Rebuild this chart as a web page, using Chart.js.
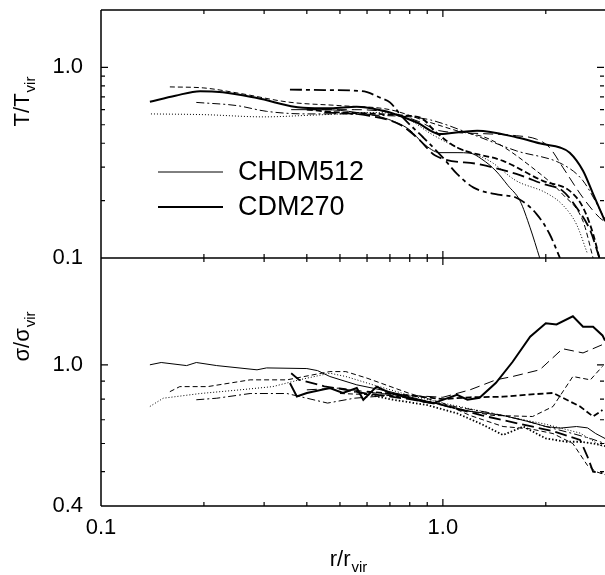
<!DOCTYPE html>
<html><head><meta charset="utf-8">
<script src="https://cdn.jsdelivr.net/npm/chart.js@4.4.1/dist/chart.umd.min.js"></script>
<style>html,body{margin:0;padding:0;background:#fff;}#wrap{width:605px;height:575px;position:relative;}</style>
</head><body><div id="wrap"><canvas id="c" width="605" height="575"></canvas></div>
<script>
// ---- tick labels ----
const xTickLabels = [0.1, 1.0];
const tTickLabels = [0.1, 1.0];
const sTickLabels = [0.4, 1.0];
const xMinorTicks = [0.2,0.3,0.4,0.5,0.6,0.7,0.8,0.9,2];
const tMinorTicks = [0.2,0.3,0.4,0.5,0.6,0.7,0.8,0.9];
const sMinorTicks = [0.5,0.6,0.7,0.8,0.9];
const legendLabels = ['CHDM512', 'CDM270'];

// ---- top panel: T/Tvir ----
const tCdm270R = [0.139,0.165,0.195,0.227,0.286,0.39,0.47,0.56,0.67,0.70,0.84,0.98,1.14,1.26,1.65,1.96,2.2,2.35,2.57,2.75,2.98];
const tCdm270V = [0.66,0.71,0.75,0.74,0.69,0.614,0.61,0.622,0.592,0.58,0.514,0.447,0.459,0.465,0.429,0.396,0.38,0.357,0.287,0.217,0.156];
const tChdmR = [0.36,0.45,0.56,0.68,0.80,0.875,0.98,1.1,1.2,1.3,1.43,1.55,1.68,1.8,1.92];
const tChdmV = [0.60,0.60,0.58,0.54,0.47,0.40,0.357,0.357,0.355,0.33,0.286,0.24,0.20,0.144,0.10];
const tDotR = [0.14,0.2,0.3,0.4,0.5,0.6,0.7,0.8,0.92,1.1,1.37,1.64,2.0,2.24,2.46,2.65];
const tDotV = [0.57,0.565,0.55,0.56,0.57,0.58,0.575,0.53,0.45,0.38,0.323,0.254,0.22,0.19,0.15,0.105];
const tDashDotThickR = [0.357,0.45,0.58,0.66,0.70,0.763,0.875,1.0,1.1,1.23,1.45,1.64,1.88,2.05,2.2];
const tDashDotThickV = [0.765,0.76,0.75,0.69,0.655,0.546,0.43,0.336,0.276,0.234,0.215,0.207,0.17,0.134,0.10];
const tLongR = [0.4,0.55,0.7,0.85,0.98,1.28,1.64,1.88,2.05,2.24,2.57,2.87,2.98];
const tLongV = [0.60,0.60,0.58,0.52,0.465,0.45,0.438,0.42,0.38,0.30,0.207,0.163,0.155];
const tDashDotR = [0.19,0.25,0.305,0.4,0.5,0.65,0.8,0.92,1.2,1.64,2.24,2.57,2.98];
const tDashDotV = [0.655,0.63,0.588,0.57,0.57,0.56,0.55,0.53,0.45,0.365,0.31,0.254,0.16];
const tDashThickR = [0.4,0.5,0.65,0.75,0.86,0.95,1.1,1.5,1.96,2.35,2.57,2.75,2.87];
const tDashThickV = [0.60,0.58,0.57,0.56,0.545,0.46,0.38,0.323,0.254,0.225,0.184,0.134,0.10];
const tDashR = [0.159,0.2,0.255,0.357,0.5,0.7,0.9,1.1,1.37,1.88,2.24,2.57,2.75];
const tDashV = [0.79,0.78,0.73,0.656,0.63,0.60,0.52,0.465,0.42,0.286,0.216,0.156,0.10];
const tLongThickR = [0.45,0.6,0.75,0.85,0.95,1.28,1.64,1.96,2.24,2.46,2.7,2.87];
const tLongThickV = [0.58,0.56,0.50,0.42,0.345,0.31,0.276,0.245,0.225,0.184,0.139,0.10];

// ---- bottom panel: sigma/sigma_vir ----
const sChdmR = [0.139,0.15,0.178,0.19,0.218,0.286,0.305,0.4,0.43,0.467,0.56,0.7,0.85,1.0,1.2,1.5,1.8,2.0,2.2,2.46,2.65,2.8,2.98];
const sChdmV = [1.0,1.015,0.995,1.015,0.995,0.968,0.98,0.976,0.963,0.927,0.878,0.84,0.80,0.77,0.74,0.72,0.69,0.67,0.663,0.67,0.664,0.64,0.62];
const sCdmR = [0.357,0.374,0.40,0.467,0.51,0.56,0.585,0.64,0.70,0.875,0.94,1.1,1.18,1.28,1.43,1.6,1.8,2.0,2.15,2.4,2.57,2.75,2.93,2.98];
const sCdmV = [0.888,0.814,0.833,0.86,0.833,0.86,0.797,0.868,0.833,0.788,0.78,0.823,0.797,0.807,0.89,1.02,1.20,1.31,1.30,1.37,1.28,1.28,1.21,1.17];
const sLongR = [0.4,0.5,0.65,0.8,1.0,1.2,1.43,1.6,1.92,2.24,2.57,2.93];
const sLongV = [0.85,0.86,0.83,0.82,0.81,0.85,0.907,0.927,0.968,1.11,1.08,1.14];
const sDash2R = [0.5,0.7,0.9,1.1,1.4,1.83,2.1,2.4,2.7,2.93];
const sDash2V = [0.83,0.82,0.79,0.75,0.72,0.715,0.763,0.927,0.907,0.99];
const sDashThickR = [0.6,0.8,1.0,1.2,1.5,1.74,2.1,2.52,2.75,2.93];
const sDashThickV = [0.84,0.82,0.80,0.81,0.813,0.823,0.833,0.763,0.715,0.746];
const sLongThickR = [0.36,0.38,0.45,0.6,0.8,1.0,1.3,1.7,2.1,2.52,2.65,2.75,2.93];
const sLongThickV = [0.947,0.907,0.87,0.83,0.80,0.77,0.72,0.68,0.65,0.614,0.55,0.50,0.495];
const sDotThickR = [0.55,0.7,0.9,1.1,1.3,1.5,1.72,2.0,2.3,2.52,2.75,2.98];
const sDotThickV = [0.84,0.80,0.77,0.73,0.68,0.634,0.67,0.62,0.607,0.607,0.60,0.59];
const sDotR = [0.139,0.152,0.195,0.255,0.318,0.38,0.467,0.52,0.625,0.8,1.0,1.3,1.6,2.0,2.52,2.93];
const sDotV = [0.763,0.805,0.83,0.85,0.868,0.907,0.947,0.927,0.878,0.82,0.78,0.74,0.71,0.68,0.642,0.588];
const sDashR = [0.159,0.17,0.205,0.273,0.35,0.467,0.52,0.6,0.8,1.0,1.2,1.5,1.8,2.1,2.4,2.65,2.8,2.98];
const sDashV = [0.84,0.868,0.868,0.907,0.907,0.957,0.957,0.917,0.83,0.78,0.72,0.67,0.66,0.64,0.60,0.52,0.50,0.49];
const sDashDotR = [0.19,0.218,0.273,0.35,0.46,0.55,0.7,0.9,1.1,1.4,1.7,2.0,2.4,2.7,2.98];
const sDashDotV = [0.797,0.805,0.83,0.83,0.78,0.805,0.82,0.79,0.76,0.73,0.70,0.67,0.64,0.62,0.60];

// ---- styles ----
const ST = {
  thin: {w:1, d:[]}, thick: {w:2, d:[]},
  dot: {w:1, d:[1,2]}, dotThick: {w:1.8, d:[1.5,2]},
  dash: {w:1, d:[5,3]}, dashThick: {w:1.8, d:[6,3]},
  long: {w:1, d:[10,5]}, longThick: {w:1.8, d:[12,5]},
  dashDot: {w:1, d:[8,3,2,3]}, dashDotThick: {w:1.8, d:[12,4,4,4]}
};
function pts(r, v) { return r.map((x, i) => ({x: x, y: v[i]})); }
function ds(r, v, st, axis, smooth) {
  return { data: pts(r, v), yAxisID: axis, borderColor: '#000', borderWidth: st.w, borderDash: st.d,
    pointRadius: 0, fill: false, tension: smooth ? 0.35 : 0, cubicInterpolationMode: smooth ? 'monotone' : 'default' };
}
const datasets = [
  ds(tChdmR, tChdmV, ST.thin, 'yT', true),
  ds(tDotR, tDotV, ST.dot, 'yT', true),
  ds(tDashDotThickR, tDashDotThickV, ST.dashDotThick, 'yT', true),
  ds(tLongR, tLongV, ST.long, 'yT', true),
  ds(tDashDotR, tDashDotV, ST.dashDot, 'yT', true),
  ds(tDashThickR, tDashThickV, ST.dashThick, 'yT', true),
  ds(tDashR, tDashV, ST.dash, 'yT', true),
  ds(tLongThickR, tLongThickV, ST.longThick, 'yT', true),
  ds(tCdm270R, tCdm270V, ST.thick, 'yT', true),
  ds(sChdmR, sChdmV, ST.thin, 'yS', false),
  ds(sLongR, sLongV, ST.long, 'yS', false),
  ds(sDash2R, sDash2V, ST.dash, 'yS', false),
  ds(sDashThickR, sDashThickV, ST.dashThick, 'yS', false),
  ds(sLongThickR, sLongThickV, ST.longThick, 'yS', false),
  ds(sDotThickR, sDotThickV, ST.dotThick, 'yS', false),
  ds(sDotR, sDotV, ST.dot, 'yS', false),
  ds(sDashR, sDashV, ST.dash, 'yS', false),
  ds(sDashDotR, sDashDotV, ST.dashDot, 'yS', false),
  ds(sCdmR, sCdmV, ST.thick, 'yS', false)
];

const FONT = "'Liberation Sans', Arial, Helvetica, sans-serif";
const fmt = v => Number(v).toFixed(1);
const fitY = s => { s.width = 101; s.paddingTop = 0; s.paddingBottom = 0; };

const framePlugin = {
  id: 'frame',
  afterDraw(chart) {
    const ctx = chart.ctx, a = chart.chartArea;
    const xs = chart.scales.x, yT = chart.scales.yT, yS = chart.scales.yS;
    const top = Math.min(yT.top, yS.top), bottom = Math.max(yT.bottom, yS.bottom);
    const mid = yT.bottom;
    ctx.save();
    ctx.strokeStyle = '#000';
    ctx.lineWidth = 1.5;
    ctx.beginPath();
    ctx.moveTo(a.left, top); ctx.lineTo(a.right, top);
    ctx.moveTo(a.left, top); ctx.lineTo(a.left, bottom);
    ctx.moveTo(a.left, bottom); ctx.lineTo(a.right, bottom);
    ctx.moveTo(a.left, mid); ctx.lineTo(a.right, mid);
    ctx.stroke();
    ctx.lineWidth = 1.2;
    ctx.beginPath();
    const xt = (v, len) => {
      const p = xs.getPixelForValue(v);
      ctx.moveTo(p, top); ctx.lineTo(p, top + len);
      ctx.moveTo(p, mid - len); ctx.lineTo(p, mid + len);
      ctx.moveTo(p, bottom); ctx.lineTo(p, bottom - len);
    };
    xMinorTicks.forEach(v => { if (v < xs.max) xt(v, 4); });
    xTickLabels.forEach(v => { if (v > xs.min) xt(v, 7); });
    const yt = (sc, v, len) => {
      const p = sc.getPixelForValue(v);
      ctx.moveTo(a.left, p); ctx.lineTo(a.left + len, p);
      ctx.moveTo(a.right - 1, p); ctx.lineTo(a.right - 1 - len, p);
    };
    tMinorTicks.forEach(v => yt(yT, v, 4));
    tTickLabels.forEach(v => { if (v > yT.min) yt(yT, v, 7); });
    sMinorTicks.forEach(v => yt(yS, v, 4));
    sTickLabels.forEach(v => { if (v > yS.min) yt(yS, v, 7); });
    ctx.stroke();

    // legend
    const lx0 = 158, lx1 = 223, tx = 238;
    const ly = [172, 207];
    const lw = [1, 2];
    ctx.font = '27px ' + FONT;
    ctx.fillStyle = '#000';
    ctx.textBaseline = 'middle';
    ctx.textAlign = 'left';
    legendLabels.forEach((lab, i) => {
      ctx.lineWidth = lw[i];
      ctx.beginPath(); ctx.moveTo(lx0, ly[i]); ctx.lineTo(lx1, ly[i]); ctx.stroke();
      ctx.fillText(lab, tx, ly[i] + 1);
    });

    // axis titles with subscripts
    const drawSub = (main, sub, size, subSize) => {
      ctx.font = size + 'px ' + FONT;
      const w1 = ctx.measureText(main).width;
      ctx.font = subSize + 'px ' + FONT;
      const w2 = ctx.measureText(sub).width;
      const start = -(w1 + w2) / 2;
      ctx.textAlign = 'left';
      ctx.textBaseline = 'alphabetic';
      ctx.font = size + 'px ' + FONT;
      ctx.fillText(main, start, 0);
      ctx.font = subSize + 'px ' + FONT;
      ctx.fillText(sub, start + w1 + 1, 6);
    };
    ctx.save(); ctx.translate(29, 102); ctx.rotate(-Math.PI / 2);
    drawSub('T/T', 'vir', 22, 15); ctx.restore();
    ctx.save(); ctx.translate(29, 337); ctx.rotate(-Math.PI / 2);
    drawSub('\u03c3/\u03c3', 'vir', 22, 15); ctx.restore();
    ctx.save(); ctx.translate(348, 566);
    drawSub('r/r', 'vir', 22, 15); ctx.restore();
    ctx.restore();
  }
};

new Chart(document.getElementById('c'), {
  type: 'line',
  data: { datasets },
  options: {
    responsive: false, animation: false, devicePixelRatio: 1,
    layout: { padding: { top: 10, right: 0, left: 0, bottom: 0 } },
    plugins: { legend: { display: false }, tooltip: { enabled: false } },
    scales: {
      yS: {
        type: 'logarithmic', position: 'left', stack: 'panels', stackWeight: 1,
        min: 0.4, max: 2.0,
        afterFit: fitY,
        afterBuildTicks: s => { s.ticks = sTickLabels.map(v => ({ value: v })); },
        grid: { display: false, drawTicks: false }, border: { display: false },
        ticks: { callback: fmt, color: '#000', padding: 18, font: { size: 22, family: FONT }, autoSkip: false }
      },
      yT: {
        type: 'logarithmic', position: 'left', stack: 'panels', stackWeight: 1,
        min: 0.1, max: 2.0,
        afterFit: fitY,
        afterBuildTicks: s => { s.ticks = tTickLabels.map(v => ({ value: v })); },
        grid: { display: false, drawTicks: false }, border: { display: false },
        ticks: { callback: fmt, color: '#000', padding: 18, font: { size: 22, family: FONT }, autoSkip: false }
      },
      x: {
        type: 'logarithmic', position: 'bottom', min: 0.1, max: 2.98,
        afterFit: s => { s.height = 69; },
        afterBuildTicks: s => { s.ticks = xTickLabels.map(v => ({ value: v })); },
        grid: { display: false, drawTicks: false }, border: { display: false },
        ticks: { callback: fmt, color: '#000', padding: 9, maxRotation: 0, font: { size: 22, family: FONT }, autoSkip: false }
      }
    }
  },
  plugins: [framePlugin]
});
</script>
</body></html>
